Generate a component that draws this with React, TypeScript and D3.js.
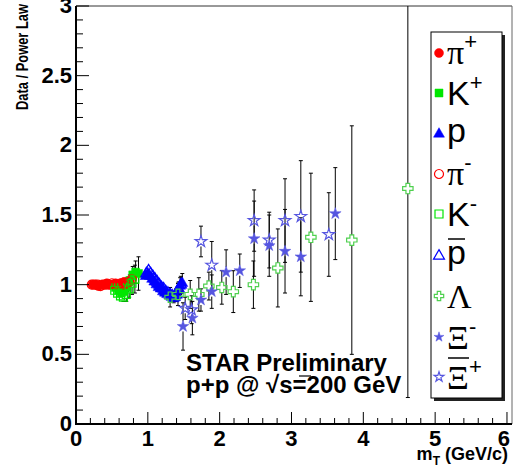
import React from 'react';
import * as d3 from 'd3';

const W = 515, H = 473;

// ---------- data ----------
const piPlusMt = [0.23, 0.27, 0.31, 0.35, 0.39, 0.43, 0.47, 0.51, 0.55, 0.59, 0.63, 0.67, 0.71, 0.75];
const piPlusVal = [1.0, 1.0, 0.99, 1.0, 1.0, 1.01, 1.0, 1.0, 1.01, 1.0, 1.01, 1.02, 1.02, 1.03];
const piPlusErr = [0.01, 0.01, 0.01, 0.01, 0.01, 0.01, 0.01, 0.01, 0.01, 0.01, 0.01, 0.01, 0.02, 0.02];

const kPlusMt = [0.55, 0.59, 0.63, 0.67, 0.71, 0.75, 0.79, 0.83, 0.87];
const kPlusVal = [0.98, 0.96, 0.94, 0.95, 0.98, 1.03, 1.07, 1.09, 1.08];
const kPlusErr = [0.01, 0.01, 0.02, 0.02, 0.03, 0.04, 0.06, 0.08, 0.12];

const pMt = [0.97, 1.0, 1.03, 1.06, 1.09, 1.12, 1.15, 1.18, 1.21, 1.24, 1.27, 1.3, 1.33, 1.36, 1.39, 1.42, 1.45, 1.48];
const pVal = [1.06, 1.08, 1.06, 1.04, 1.02, 1.0, 0.98, 0.97, 0.95, 0.94, 0.93, 0.92, 0.91, 0.9, 0.92, 0.96, 0.99, 1.01];
const pErr = [0.01, 0.01, 0.01, 0.01, 0.01, 0.01, 0.01, 0.01, 0.02, 0.02, 0.02, 0.02, 0.03, 0.03, 0.04, 0.05, 0.06, 0.07];

const piMinusMt = [0.22, 0.26, 0.3, 0.34, 0.38, 0.42, 0.46, 0.5, 0.54, 0.58, 0.62, 0.66, 0.7, 0.74, 0.78];
const piMinusVal = [1.0, 1.0, 1.0, 0.99, 1.0, 1.0, 1.0, 1.01, 1.0, 1.0, 1.01, 1.0, 1.01, 1.02, 1.04];
const piMinusErr = [0.01, 0.01, 0.01, 0.01, 0.01, 0.01, 0.01, 0.01, 0.01, 0.01, 0.01, 0.01, 0.02, 0.02, 0.03];

const kMinusMt = [0.54, 0.58, 0.62, 0.66, 0.7, 0.74, 0.78, 0.82];
const kMinusVal = [0.96, 0.94, 0.92, 0.91, 0.93, 0.97, 1.01, 1.04];
const kMinusErr = [0.01, 0.01, 0.02, 0.03, 0.05, 0.06, 0.08, 0.1];

const pbarMt = [0.98, 1.01, 1.04, 1.07, 1.1, 1.13, 1.16, 1.19, 1.22, 1.25, 1.28, 1.31, 1.34, 1.37, 1.4, 1.43, 1.46];
const pbarVal = [1.08, 1.1, 1.08, 1.06, 1.04, 1.02, 1.0, 0.98, 0.97, 0.95, 0.94, 0.93, 0.92, 0.91, 0.93, 0.97, 1.0];
const pbarErr = [0.01, 0.01, 0.01, 0.01, 0.01, 0.01, 0.01, 0.01, 0.02, 0.02, 0.02, 0.02, 0.03, 0.03, 0.04, 0.05, 0.06];

const lambdaMt = [1.31, 1.42, 1.59, 1.71, 1.85, 2.03, 2.19, 2.47, 2.81, 3.27, 3.84, 4.62];
const lambdaVal = [0.91, 0.93, 0.93, 0.93, 0.99, 0.98, 0.95, 1.0, 1.12, 1.34, 1.32, 1.69];
const lambdaErr = [0.07, 0.08, 0.1, 0.12, 0.1, 0.12, 0.15, 0.17, 0.28, 0.46, 0.82, 1.5];

const xiMinusMt = [1.49, 1.62, 1.74, 1.89, 2.09, 2.28, 2.48, 2.69, 2.91, 3.13, 3.61];
const xiMinusVal = [0.7, 0.76, 0.89, 0.95, 1.09, 1.1, 1.33, 1.28, 1.24, 1.2, 1.51];
const xiMinusErr = [0.17, 0.12, 0.08, 0.12, 0.16, 0.12, 0.27, 0.22, 0.3, 0.28, 0.33];

const xiBarPlusMt = [1.52, 1.61, 1.74, 1.89, 2.48, 2.69, 2.91, 3.13, 3.52];
const xiBarPlusVal = [0.83, 0.82, 1.31, 1.14, 1.46, 1.32, 1.46, 1.49, 1.36];
const xiBarPlusErr = [0.08, 0.1, 0.11, 0.17, 0.22, 0.2, 0.3, 0.4, 0.3];

const xTicks = [0, 1, 2, 3, 4, 5, 6];
const yTicks = [0, 0.5, 1, 1.5, 2, 2.5, 3];
const yTickLabels = ['0', '0.5', '1', '1.5', '2', '2.5', '3'];

// ---------- layout ----------
const X0 = 76, X1 = 512, Y0 = 424, Y1 = 6;
const x = d3.scaleLinear().domain([0, 6.07]).range([X0, X1]);
const y = d3.scaleLinear().domain([0, 3]).range([Y0, Y1]);

const RED = '#ff0000', GREEN = '#00e600', BLUE = '#0000ff', LGREEN = '#4fd04f', SBLUE = '#5656e0';

type Kind = 'circle' | 'square' | 'triangle' | 'star' | 'cross';
const sizes: Record<string, number> = { circle: 64, square: 64, triangle: 52, star: 42 };

function markerPath(kind: Kind, scale = 1): string {
  if (kind === 'cross') {
    const h = 5.2 * scale, w = 1.9 * scale;
    return `M${-w},${-h}L${w},${-h}L${w},${-w}L${h},${-w}L${h},${w}L${w},${w}L${w},${h}L${-w},${h}L${-w},${w}L${-h},${w}L${-h},${-w}L${-w},${-w}Z`;
  }
  const t = kind === 'circle' ? d3.symbolCircle : kind === 'square' ? d3.symbolSquare : kind === 'triangle' ? d3.symbolTriangle : d3.symbolStar;
  return d3.symbol().type(t).size(sizes[kind] * scale * scale)() as string;
}

const series = [
  { mt: piPlusMt, val: piPlusVal, err: piPlusErr, kind: 'circle' as Kind, color: RED, filled: true, gap: 4 },
  { mt: kPlusMt, val: kPlusVal, err: kPlusErr, kind: 'square' as Kind, color: GREEN, filled: true, gap: 4 },
  { mt: pMt, val: pVal, err: pErr, kind: 'triangle' as Kind, color: BLUE, filled: true, gap: 4 },
  { mt: piMinusMt, val: piMinusVal, err: piMinusErr, kind: 'circle' as Kind, color: RED, filled: false, gap: 4 },
  { mt: kMinusMt, val: kMinusVal, err: kMinusErr, kind: 'square' as Kind, color: GREEN, filled: false, gap: 4 },
  { mt: pbarMt, val: pbarVal, err: pbarErr, kind: 'triangle' as Kind, color: BLUE, filled: false, gap: 4 },
  { mt: lambdaMt, val: lambdaVal, err: lambdaErr, kind: 'cross' as Kind, color: LGREEN, filled: false, gap: 5 },
  { mt: xiMinusMt, val: xiMinusVal, err: xiMinusErr, kind: 'star' as Kind, color: SBLUE, filled: true, gap: 5 },
  { mt: xiBarPlusMt, val: xiBarPlusVal, err: xiBarPlusErr, kind: 'star' as Kind, color: SBLUE, filled: false, gap: 5 },
];

function ErrorBars({ s }: { s: typeof series[number] }) {
  const out: JSX.Element[] = [];
  s.mt.forEach((m, i) => {
    const cx = x(m);
    const cy = y(s.val[i]);
    const top = Math.max(y(Math.min(s.val[i] + s.err[i], 3)), Y1);
    const bot = Math.min(y(Math.max(s.val[i] - s.err[i], 0)), Y0);
    if (cy - top > s.gap) {
      out.push(<line key={`t${i}`} x1={cx} x2={cx} y1={top} y2={cy - s.gap} stroke="#000" strokeWidth={1} />);
      if (top > Y1 + 0.5) out.push(<line key={`tc${i}`} x1={cx - 2} x2={cx + 2} y1={top} y2={top} stroke="#000" strokeWidth={1} />);
    }
    if (bot - cy > s.gap) {
      out.push(<line key={`b${i}`} x1={cx} x2={cx} y1={cy + s.gap} y2={bot} stroke="#000" strokeWidth={1} />);
      out.push(<line key={`bc${i}`} x1={cx - 2} x2={cx + 2} y1={bot} y2={bot} stroke="#000" strokeWidth={1} />);
    }
  });
  return <g>{out}</g>;
}

function Markers({ s }: { s: typeof series[number] }) {
  const d = markerPath(s.kind);
  return (
    <g>
      {s.mt.map((m, i) => (
        <path key={i} d={d} transform={`translate(${x(m)},${y(s.val[i])})`}
          fill={s.filled ? s.color : 'none'} stroke={s.color} strokeWidth={s.filled ? 0.5 : 1.2} />
      ))}
    </g>
  );
}

const legendY = [53, 93, 134, 174, 214, 256, 296, 337, 377];

export default function App() {
  const sans = '"Liberation Sans", Arial, Helvetica, sans-serif';
  const serif = '"Liberation Serif", "Times New Roman", serif';
  const xMinor = d3.range(0, 6.07, 0.2);
  const yMinor = d3.range(0, 3.001, 0.1);
  const lx = 439, tx = 447;
  return (
    <svg width={W} height={H} style={{ position: 'absolute', left: 0, top: 0, background: '#fff' }}>
      <rect x={0} y={0} width={W} height={H} fill="#fff" />
      {/* frame */}
      <line x1={X0} x2={X1} y1={Y1} y2={Y1} stroke="#333" strokeWidth={1} />
      <line x1={X1} x2={X1} y1={Y1} y2={Y0} stroke="#666" strokeWidth={1} />

      {/* error bars then markers */}
      {series.map((s, i) => <ErrorBars key={`e${i}`} s={s} />)}
      {series.map((s, i) => <Markers key={`m${i}`} s={s} />)}

      {/* axes */}
      <line x1={X0} x2={X0} y1={Y1} y2={Y0 + 1} stroke="#000" strokeWidth={2} />
      <line x1={X0 - 1} x2={X1} y1={Y0} y2={Y0} stroke="#000" strokeWidth={2} />
      {xMinor.map((v, i) => {
        const major = Math.abs(v - Math.round(v)) < 1e-6;
        return <line key={`xt${i}`} x1={x(v)} x2={x(v)} y1={Y0} y2={Y0 - (major ? 12 : 6)} stroke="#000" strokeWidth={1} />;
      })}
      {yMinor.map((v, i) => {
        const major = Math.abs(v * 2 - Math.round(v * 2)) < 1e-6;
        return <line key={`yt${i}`} x1={X0} x2={X0 + (major ? 13 : 7)} y1={y(v)} y2={y(v)} stroke="#000" strokeWidth={1} />;
      })}
      {xTicks.map((v) => (
        <text key={`xl${v}`} x={v === 6 ? x(v) - 3 : x(v)} y={446} textAnchor="middle" fontFamily={sans} fontWeight="bold" fontSize={22}>{v}</text>
      ))}
      {yTicks.map((v, i) => (
        <text key={`yl${v}`} x={72} y={y(v) + 7} textAnchor="end" fontFamily={sans} fontWeight="bold" fontSize={22}>{yTickLabels[i]}</text>
      ))}

      {/* axis titles */}
      <text transform="translate(28,4) rotate(-90)" textAnchor="end" fontFamily={sans} fontWeight="bold" fontSize={17}
        textLength={106} lengthAdjust="spacingAndGlyphs">Data / Power Law</text>
      <text x={508} y={460} textAnchor="end" fontFamily={sans} fontWeight="bold" fontSize={18}>
        m<tspan fontSize={12} dy={5}>T</tspan><tspan dy={-5}> (GeV/c)</tspan>
      </text>

      {/* STAR label */}
      <text x={186} y={371} fontFamily={sans} fontWeight="bold" fontSize={24}>STAR Preliminary</text>
      <text x={186} y={393} fontFamily={sans} fontWeight="bold" fontSize={24}>p+p @ √s=200 GeV</text>
      <line x1={299} x2={311} y1={376} y2={376} stroke="#000" strokeWidth={1.2} />

      {/* legend */}
      <rect x={434} y={35} width={71} height={366} fill="#222" />
      <rect x={431} y={32} width={71} height={366} fill="#fff" stroke="#000" strokeWidth={1} />
      {series.map((s, i) => (
        <path key={`lm${i}`} d={markerPath(s.kind, s.kind === 'star' ? 0.85 : s.kind === 'cross' ? 0.9 : 1)}
          transform={`translate(${lx},${legendY[i]})`}
          fill={s.filled ? s.color : 'none'} stroke={s.color} strokeWidth={s.filled ? 0.5 : 1.2} />
      ))}
      <g fontSize={34}>
        <text x={tx} y={legendY[0] + 11} fontFamily={serif}>π<tspan fontFamily={sans} fontSize={22} dy={-15}>+</tspan></text>
        <text x={tx} y={legendY[1] + 12} fontFamily={sans}>K<tspan fontSize={22} dy={-15}>+</tspan></text>
        <text x={tx} y={legendY[2] + 8} fontFamily={sans}>p</text>
        <text x={tx} y={legendY[3] + 11} fontFamily={serif}>π<tspan fontFamily={sans} fontSize={22} dy={-15}>-</tspan></text>
        <text x={tx} y={legendY[4] + 12} fontFamily={sans}>K<tspan fontSize={22} dy={-15}>-</tspan></text>
        <text x={tx} y={legendY[5] + 8} fontFamily={sans}>p</text>
        <line x1={tx + 1} x2={tx + 18} y1={legendY[5] - 17} y2={legendY[5] - 17} stroke="#000" strokeWidth={1.5} />
        <text x={tx} y={legendY[6] + 12} fontFamily={serif}>Λ</text>
        <text x={tx} y={legendY[7] + 12} fontFamily={serif}>Ξ<tspan fontFamily={sans} fontSize={22} dy={-15}>-</tspan></text>
        <text x={tx} y={legendY[8] + 12} fontFamily={serif}>Ξ<tspan fontFamily={sans} fontSize={22} dy={-15}>+</tspan></text>
        <line x1={tx + 1} x2={tx + 22} y1={legendY[8] - 19} y2={legendY[8] - 19} stroke="#000" strokeWidth={1.5} />
      </g>
    </svg>
  );
}
